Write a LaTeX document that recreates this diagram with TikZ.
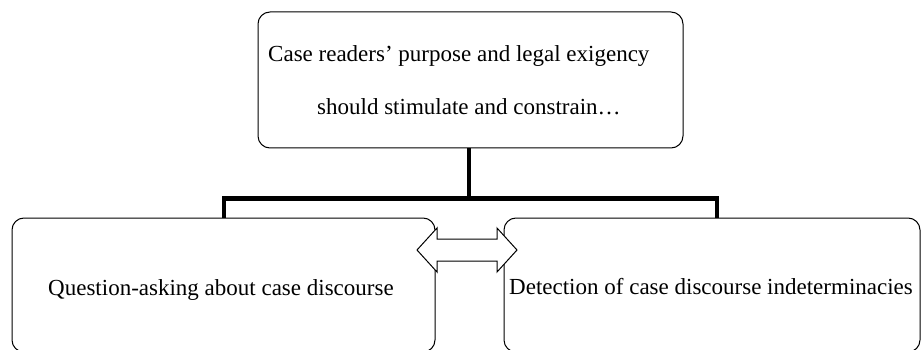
\documentclass[tikz,border=0pt]{standalone}
\usepackage{fontspec}
\setmainfont{Liberation Serif}
\tikzset{
  box/.style={draw=black, line width=1pt, rounded corners=12pt, fill=white},
  txt/.style={anchor=base west, inner sep=0pt, font=\fontsize{23}{27}\selectfont},
  bar/.style={draw=black, line width=4.5pt},
  dblarrow/.style={draw=black, line width=1pt, fill=white, line join=miter}
}
\begin{document}
\begin{tikzpicture}[x=1pt,y=-1pt]
\useasboundingbox (0,0) rectangle (921,350);
\clip (0,0) rectangle (921,350);
\coordinate (bl) at (224,198.5);
\coordinate (br) at (717,198.5);
\coordinate (bm) at (469,198.5);
% boxes
\node[box, minimum width=425pt, minimum height=136pt, inner sep=0pt] (top) at (470.5,80) {};
\node[box, minimum width=423pt, minimum height=134pt, inner sep=0pt] (left) at (223.5,285) {};
\node[box, minimum width=416pt, minimum height=134pt, inner sep=0pt] (right) at (712,285) {};
% connectors
\draw[bar] (top.south -| bm) -- (bm);
\draw[bar] (left.north -| bl) -- (bl) -- (br) -- (right.north -| br);
% texts
\node[txt] (t1) at (268,62) {Case readers’ purpose and legal exigency};
\node[txt] (t2) at (317,115) {should stimulate and constrain…};
\node[txt] (t3) at (48,295) {Question-asking about case discourse};
\node[txt] (t4) at (509,294) {Detection of case discourse indeterminacies};
% double block arrow between the two lower boxes
\coordinate (arr) at (467,250);
\draw[dblarrow] (417,250) -- (437,228) -- (437,239) -- (497,239) -- (497,228)
  -- (517,250) -- (497,272) -- (497,261) -- (437,261) -- (437,272) -- cycle;
\end{tikzpicture}
\end{document}
